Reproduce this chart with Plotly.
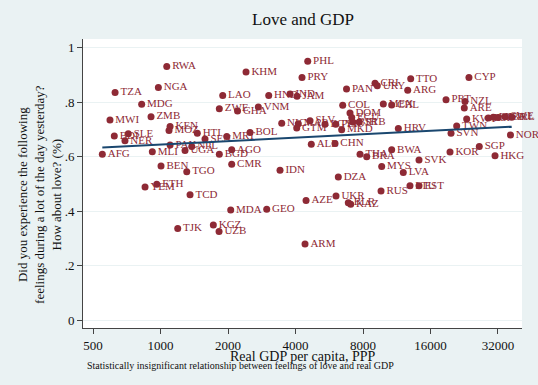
import numpy as np
import plotly.graph_objects as go

# ---- data ----
countries = ["RWA","NGA","TZA","MDG","ZMB","MWI","LAO","ZWE","GHA","KEN",
             "MOZ","HTI","BDI","SLE","NER","AFG","MLI","PAK","NPL","UGA",
             "SEN","MRT","BGD","AGO","BOL","BEN","TGO","ETH","YEM","TCD",
             "CMR","MDA","GEO","TJK","KGZ","UZB","ARM","AZE","UKR","BLR",
             "KAZ","DZA","IDN","ALB","CHN","PHL","KHM","PRY","PAN","HND",
             "IND","JAM","VNM","COL","DOM","ECU","NIC","MAR","GTM","SLV",
             "EGY","PER","MKD","BIH","SRB","CRI","URY","ARG","TTO","CYP",
             "MEX","CHL","PRT","NZL","ARE","HRV","TWN","SVN","KWT","ESP",
             "FIN","GBR","SWE","IRL","NOR","KOR","SGP","HKG","BWA","SVK",
             "THA","BRA","MYS","LVA","RUS","LTU","EST"]
gdp = [1066,978,627,824,907,595,1894,1829,2205,1103,
       1091,1459,622,718,694,550,919,1103,1378,1286,
       1579,1974,1829,2077,2507,1005,1309,962,853,1354,
       2077,2056,2976,1193,1720,1824,4410,4457,6063,6878,
       7051,6208,3411,4704,6000,4535,2406,4276,6754,3038,
       3782,4062,2730,6494,7000,7125,3472,4116,4050,4642,
       5415,6047,6426,7196,7701,9050,9267,12660,13056,23752,
       9855,10740,18766,22800,22640,11497,20937,19756,23200,28970,
       30490,32090,34390,36830,36380,19550,26410,31040,10740,14220,
       7759,8310,9693,12100,9627,12960,14220]
love = [0.931,0.854,0.836,0.792,0.747,0.735,0.825,0.776,0.768,0.711,
        0.696,0.686,0.676,0.684,0.658,0.609,0.618,0.643,0.637,0.623,
        0.665,0.674,0.609,0.625,0.689,0.566,0.545,0.499,0.489,0.460,
        0.572,0.404,0.407,0.336,0.349,0.325,0.279,0.439,0.456,0.431,
        0.425,0.525,0.550,0.646,0.648,0.950,0.911,0.891,0.848,0.825,
        0.830,0.822,0.782,0.789,0.760,0.744,0.723,0.721,0.705,0.732,
        0.719,0.719,0.699,0.727,0.727,0.870,0.860,0.844,0.886,0.891,
        0.793,0.790,0.809,0.803,0.779,0.703,0.713,0.686,0.738,0.742,
        0.745,0.744,0.747,0.745,0.680,0.617,0.637,0.603,0.625,0.588,
        0.609,0.600,0.564,0.542,0.474,0.493,0.493]

x_ticks = [500, 1000, 2000, 4000, 8000, 16000, 32000]
x_ticktext = ["500", "1000", "2000", "4000", "8000", "16000", "32000"]
y_ticks = [0, 0.2, 0.4, 0.6, 0.8, 1.0]
y_ticktext = ["0", ".2", ".4", ".6", ".8", "1"]

title = "Love and GDP"
x_title = "Real GDP per capita, PPP"
y_title = ("Did you experience the following<br>"
           "feelings during a lot of the day yesterday?<br>"
           "How about love? (%)")
caption = "Statistically insignificant relationship between feelings of love and real GDP"

# ---- linear fit on log GDP ----
lx = np.log(np.array(gdp, dtype=float))
b, a = np.polyfit(lx, np.array(love), 1)
fit_x = np.array([min(gdp), max(gdp)], dtype=float)
fit_y = a + b * np.log(fit_x)

FONT = "Liberation Serif"
MAROON = "#8E2A35"
BG = "#EAF2F3"

fig = go.Figure()
fig.add_trace(go.Scatter(
    x=gdp, y=love, mode="markers+text", text=countries,
    textposition="middle right",
    textfont=dict(family=FONT, size=11, color=MAROON),
    marker=dict(color=MAROON, size=7, line=dict(width=0)),
    cliponaxis=False, hoverinfo="skip", showlegend=False))
fig.add_trace(go.Scatter(
    x=fit_x, y=fit_y, mode="lines",
    line=dict(color="#1A476F", width=2),
    hoverinfo="skip", showlegend=False))

fig.update_layout(
    width=538, height=385,
    margin=dict(l=83, r=16, t=39, b=57),
    paper_bgcolor=BG, plot_bgcolor="white",
    font=dict(family=FONT, color="#111111"),
    showlegend=False,
    xaxis=dict(type="log", range=[np.log10(451), np.log10(40950)],
               tickvals=x_ticks, ticktext=x_ticktext,
               tickfont=dict(family=FONT, size=13, color="#111"),
               ticks="outside", ticklen=5, tickcolor="#444",
               showline=True, linecolor="#444", linewidth=1,
               showgrid=False, zeroline=False),
    yaxis=dict(range=[-0.029, 1.032],
               tickvals=y_ticks, ticktext=y_ticktext,
               tickfont=dict(family=FONT, size=13, color="#111"),
               ticks="outside", ticklen=5, tickcolor="#444",
               showline=True, linecolor="#444", linewidth=1,
               showgrid=True, gridcolor=BG, gridwidth=1,
               zeroline=False),
    annotations=[
        dict(text=title, xref="paper", yref="paper", x=0.5, y=1.066,
             xanchor="center", yanchor="middle", showarrow=False,
             font=dict(family=FONT, size=17, color="#111")),
        dict(text=x_title, xref="paper", yref="paper", x=0.5, y=-0.10,
             xanchor="center", yanchor="middle", showarrow=False,
             font=dict(family=FONT, size=14, color="#111")),
        dict(text=y_title, xref="paper", yref="paper", x=-0.098, y=0.464,
             xanchor="center", yanchor="middle", showarrow=False,
             textangle=-90,
             font=dict(family=FONT, size=13, color="#111")),
        dict(text=caption, xref="paper", yref="paper", x=0.004, y=-0.131,
             xanchor="left", yanchor="middle", showarrow=False,
             font=dict(family=FONT, size=10, color="#111")),
    ],
)

fig.write_html("out.html",
               config={"displayModeBar": False},
               post_script="document.body.style.margin='0';")
